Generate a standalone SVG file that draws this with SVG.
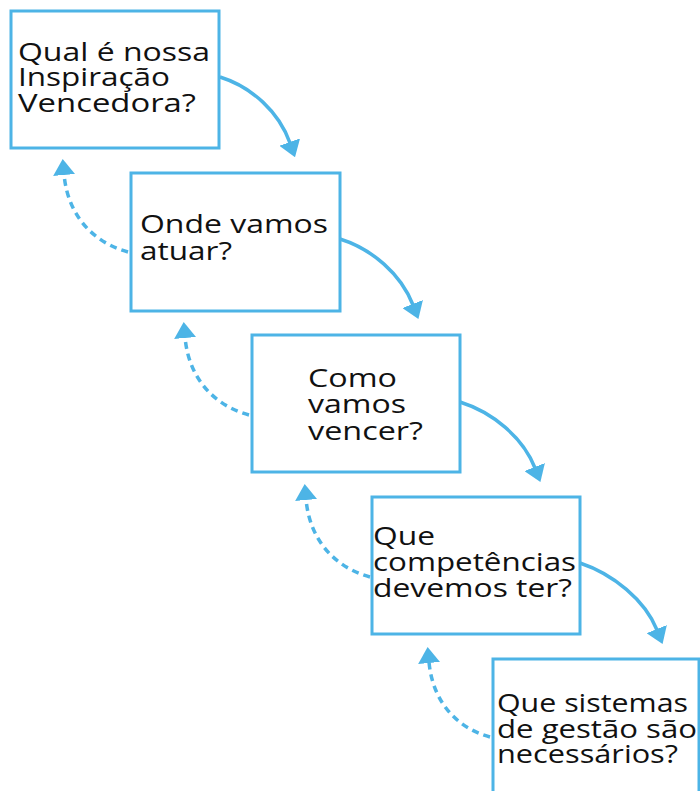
<svg xmlns="http://www.w3.org/2000/svg" width="700" height="791" viewBox="0 0 700 791">
<defs>
<style>
.box{fill:#fff;stroke:#4DB4E6;stroke-width:3}
.t{font-family:"Open Sans","Liberation Sans",sans-serif;font-size:25px;fill:#111}
.fw{fill:none;stroke:#4DB4E6;stroke-width:3.5}
.bk{fill:none;stroke:#4DB4E6;stroke-width:3.5;stroke-dasharray:7 5}
</style>
<marker id="ah" viewBox="0 0 16 22" refX="1" refY="11" markerWidth="16" markerHeight="22" markerUnits="userSpaceOnUse" orient="auto">
<path d="M0,0 L16,11 L0,22 Z" fill="#4DB4E6"/>
</marker>
</defs>
<rect width="700" height="791" fill="#fff"/>
<g id="connectors">
<path class="fw" d="M220,77 C252,87 279,112 290,143" marker-end="url(#ah)"/>
<path class="fw" d="M340,239 C372,249 401,274 413,305" marker-end="url(#ah)"/>
<path class="fw" d="M460,402 C492,412 523,437 535,468" marker-end="url(#ah)"/>
<path class="fw" d="M580,563 C613,574 645,600 657,630" marker-end="url(#ah)"/>
<path class="bk" d="M128,252 C98,244 68,220 64,174" marker-end="url(#ah)"/>
<path class="bk" d="M249,415 C219,407 189,383 185,337" marker-end="url(#ah)"/>
<path class="bk" d="M370,577 C340,569 310,545 306,499" marker-end="url(#ah)"/>
<path class="bk" d="M490,737 C460,729 433,705 429,662" marker-end="url(#ah)"/>
</g>
<g id="n1">
<rect class="box" x="11" y="11" width="208" height="137"/>
<text class="t"><tspan x="18" y="61" textLength="192" lengthAdjust="spacingAndGlyphs">Qual é nossa</tspan><tspan x="18" y="86" textLength="152" lengthAdjust="spacingAndGlyphs">Inspiração</tspan><tspan x="18" y="112" textLength="178" lengthAdjust="spacingAndGlyphs">Vencedora?</tspan></text>
</g>
<g id="n2">
<rect class="box" x="131" y="173" width="209" height="138"/>
<text class="t"><tspan x="140" y="233" textLength="188" lengthAdjust="spacingAndGlyphs">Onde vamos</tspan><tspan x="140" y="260" textLength="92" lengthAdjust="spacingAndGlyphs">atuar?</tspan></text>
</g>
<g id="n3">
<rect class="box" x="252" y="335" width="208" height="137"/>
<text class="t"><tspan x="308" y="387" textLength="89" lengthAdjust="spacingAndGlyphs">Como</tspan><tspan x="308" y="413" textLength="98" lengthAdjust="spacingAndGlyphs">vamos</tspan><tspan x="308" y="440" textLength="115" lengthAdjust="spacingAndGlyphs">vencer?</tspan></text>
</g>
<g id="n4">
<rect class="box" x="372" y="497" width="208" height="137"/>
<text class="t"><tspan x="373" y="545" textLength="62" lengthAdjust="spacingAndGlyphs">Que</tspan><tspan x="373" y="571" textLength="203" lengthAdjust="spacingAndGlyphs">competências</tspan><tspan x="373" y="597" textLength="199" lengthAdjust="spacingAndGlyphs">devemos ter?</tspan></text>
</g>
<g id="n5">
<rect class="box" x="493" y="659" width="206" height="150"/>
<text class="t"><tspan x="497" y="712" textLength="191" lengthAdjust="spacingAndGlyphs">Que sistemas</tspan><tspan x="497" y="738" textLength="200" lengthAdjust="spacingAndGlyphs">de gestão são</tspan><tspan x="497" y="763" textLength="181" lengthAdjust="spacingAndGlyphs">necessários?</tspan></text>
</g>
</svg>
